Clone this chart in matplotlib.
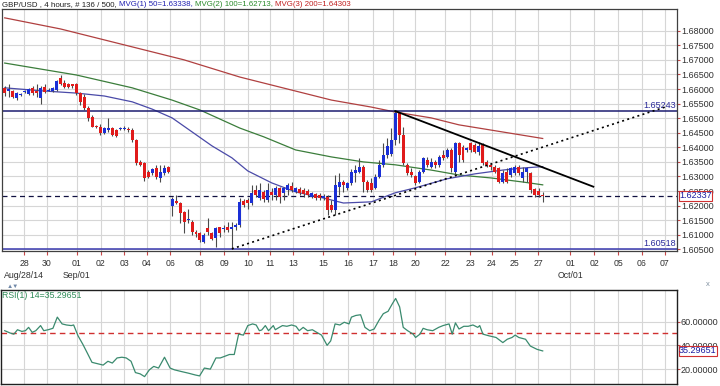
import matplotlib
matplotlib.use('Agg')
import matplotlib.pyplot as plt
import matplotlib.transforms as mtransforms
import numpy as np

plt.rcParams['font.family'] = ['Liberation Sans', 'DejaVu Sans']

# GBP/USD 4h candles (136 bars)
opens = [1.6604, 1.6593, 1.6593, 1.6569, 1.6580, 1.6590, 1.6583, 1.6604, 1.6593, 1.6569,
         1.6607, 1.6593, 1.6593, 1.6597, 1.6638, 1.6621, 1.6617, 1.6617, 1.6617, 1.6586,
         1.6573, 1.6535, 1.6504, 1.6473, 1.6470, 1.6449, 1.6460, 1.6466, 1.6460, 1.6463,
         1.6463, 1.6463, 1.6460, 1.6425, 1.6350, 1.6346, 1.6316, 1.6312, 1.6329, 1.6295,
         1.6312, 1.6333, 1.6199, 1.6216, 1.6209, 1.6178, 1.6151, 1.6144, 1.6110, 1.6106,
         1.6076, 1.6124, 1.6106, 1.6089, 1.6127, 1.6120, 1.6127, 1.6120, 1.6127, 1.6134,
         1.6216, 1.6220, 1.6209, 1.6254, 1.6226, 1.6247, 1.6220, 1.6247, 1.6237, 1.6261,
         1.6244, 1.6254, 1.6268, 1.6247, 1.6257, 1.6254, 1.6250, 1.6230, 1.6240, 1.6237,
         1.6226, 1.6230, 1.6202, 1.6185, 1.6264, 1.6281, 1.6261, 1.6278, 1.6312, 1.6316,
         1.6333, 1.6281, 1.6278, 1.6261, 1.6298, 1.6340, 1.6374, 1.6377, 1.6425, 1.6518,
         1.6442, 1.6340, 1.6316, 1.6302, 1.6281, 1.6316, 1.6357, 1.6333, 1.6350, 1.6340,
         1.6374, 1.6367, 1.6391, 1.6316, 1.6415, 1.6401, 1.6391, 1.6415, 1.6408, 1.6384,
         1.6408, 1.6350, 1.6340, 1.6333, 1.6329, 1.6281, 1.6316, 1.6305, 1.6312, 1.6333,
         1.6295, 1.6316, 1.6312, 1.6257, 1.6250, 1.6237]
highs = [1.6610, 1.6617, 1.6597, 1.6590, 1.6586, 1.6597, 1.6604, 1.6610, 1.6617, 1.6610,
         1.6617, 1.6604, 1.6607, 1.6631, 1.6648, 1.6631, 1.6621, 1.6617, 1.6621, 1.6590,
         1.6583, 1.6542, 1.6511, 1.6477, 1.6480, 1.6470, 1.6501, 1.6470, 1.6463, 1.6470,
         1.6473, 1.6470, 1.6466, 1.6429, 1.6357, 1.6350, 1.6322, 1.6329, 1.6340, 1.6340,
         1.6340, 1.6336, 1.6230, 1.6237, 1.6213, 1.6182, 1.6189, 1.6151, 1.6117, 1.6110,
         1.6106, 1.6158, 1.6110, 1.6127, 1.6127, 1.6134, 1.6144, 1.6144, 1.6141, 1.6226,
         1.6223, 1.6226, 1.6271, 1.6271, 1.6278, 1.6254, 1.6278, 1.6261, 1.6268, 1.6264,
         1.6264, 1.6278, 1.6281, 1.6264, 1.6264, 1.6261, 1.6257, 1.6247, 1.6244, 1.6244,
         1.6240, 1.6237, 1.6220, 1.6305, 1.6312, 1.6288, 1.6281, 1.6326, 1.6340, 1.6364,
         1.6340, 1.6288, 1.6295, 1.6309, 1.6357, 1.6415, 1.6432, 1.6466, 1.65243, 1.6522,
         1.6470, 1.6346, 1.6329, 1.6305, 1.6322, 1.6367, 1.6367, 1.6364, 1.6357, 1.6374,
         1.6391, 1.6398, 1.6398, 1.6418, 1.6418, 1.6408, 1.6401, 1.6418, 1.6415, 1.6418,
         1.6415, 1.6357, 1.6346, 1.6340, 1.6333, 1.6322, 1.6329, 1.6333, 1.6340, 1.6340,
         1.6333, 1.6333, 1.6316, 1.6261, 1.6261, 1.6247]
lows = [1.6576, 1.6573, 1.6569, 1.6562, 1.6576, 1.6586, 1.6580, 1.6580, 1.6573, 1.6549,
        1.6586, 1.6593, 1.6590, 1.6593, 1.6614, 1.6604, 1.6604, 1.6604, 1.6580, 1.6545,
        1.6528, 1.6490, 1.6470, 1.6466, 1.6442, 1.6446, 1.6453, 1.6439, 1.6436, 1.6460,
        1.6460, 1.6453, 1.6418, 1.6340, 1.6336, 1.6285, 1.6295, 1.6305, 1.6292, 1.6281,
        1.6305, 1.6312, 1.6165, 1.6206, 1.6141, 1.6106, 1.6141, 1.6100, 1.6093, 1.6076,
        1.6072, 1.6100, 1.6082, 1.6058, 1.6093, 1.6110, 1.6110, 1.60518, 1.6117, 1.6127,
        1.6196, 1.6189, 1.6202, 1.6230, 1.6220, 1.6213, 1.6213, 1.6220, 1.6220, 1.6209,
        1.6220, 1.6237, 1.6247, 1.6244, 1.6237, 1.6230, 1.6230, 1.6226, 1.6220, 1.6220,
        1.6220, 1.6168, 1.6178, 1.6168, 1.6237, 1.6247, 1.6254, 1.6271, 1.6281, 1.6312,
        1.6247, 1.6247, 1.6247, 1.6257, 1.6295, 1.6333, 1.6364, 1.6370, 1.6408, 1.6415,
        1.6340, 1.6305, 1.6298, 1.6271, 1.6278, 1.6312, 1.6333, 1.6329, 1.6329, 1.6333,
        1.6357, 1.6364, 1.6316, 1.6305, 1.6350, 1.6350, 1.6384, 1.6384, 1.6381, 1.6374,
        1.6340, 1.6333, 1.6322, 1.6312, 1.6278, 1.6278, 1.6278, 1.6298, 1.6305, 1.6305,
        1.6281, 1.6281, 1.6244, 1.6230, 1.6230, 1.6213]
closes = [1.6586, 1.6600, 1.6573, 1.6586, 1.6583, 1.6593, 1.6600, 1.6586, 1.6586, 1.6604,
          1.6590, 1.6597, 1.6604, 1.6628, 1.6617, 1.6607, 1.6607, 1.6610, 1.6586, 1.6556,
          1.6535, 1.6501, 1.6470, 1.6470, 1.6449, 1.6466, 1.6466, 1.6442, 1.6439, 1.6466,
          1.6466, 1.6460, 1.6425, 1.6346, 1.6340, 1.6295, 1.6298, 1.6326, 1.6298, 1.6316,
          1.6329, 1.6316, 1.6223, 1.6209, 1.6175, 1.6144, 1.6154, 1.6110, 1.6103, 1.6082,
          1.6100, 1.6110, 1.6086, 1.6124, 1.6106, 1.6124, 1.6117, 1.6127, 1.6134, 1.6213,
          1.6202, 1.6209, 1.6244, 1.6237, 1.6254, 1.6223, 1.6254, 1.6237, 1.6261, 1.6230,
          1.6261, 1.6271, 1.6254, 1.6261, 1.6244, 1.6240, 1.6237, 1.6244, 1.6226, 1.6226,
          1.6233, 1.6185, 1.6185, 1.6271, 1.6281, 1.6271, 1.6278, 1.6316, 1.6322, 1.6333,
          1.6281, 1.6254, 1.6254, 1.6298, 1.6340, 1.6374, 1.6405, 1.6425, 1.6518, 1.6442,
          1.6346, 1.6312, 1.6305, 1.6278, 1.6316, 1.6364, 1.6340, 1.6350, 1.6340, 1.6367,
          1.6364, 1.6391, 1.6329, 1.6415, 1.6374, 1.6357, 1.6398, 1.6391, 1.6384, 1.6405,
          1.6346, 1.6340, 1.6333, 1.6316, 1.6281, 1.6312, 1.6281, 1.6329, 1.6333, 1.6312,
          1.6316, 1.6329, 1.6254, 1.6237, 1.6237, 1.62337]

# moving averages, read at a few bars
ma50_bar = [0, 10, 18, 25, 32, 37, 42, 47, 52, 57, 61, 67, 73, 80, 85, 92, 98, 103, 111, 118, 125, 130, 135]
ma50_val = [1.6604, 1.6593, 1.6586, 1.6576, 1.6556, 1.6531, 1.6501, 1.6453, 1.6405, 1.6364, 1.6319, 1.6278,
            1.6247, 1.6226, 1.6209, 1.6213, 1.6244, 1.6261, 1.6292, 1.6309, 1.6322, 1.6329, 1.63338]
ma100_bar = [0, 18, 32, 42, 49, 59, 65, 73, 82, 90, 98, 107, 114, 122, 130, 135]
ma100_val = [1.6689, 1.6648, 1.6604, 1.6562, 1.6528, 1.6466, 1.6436, 1.6391, 1.6367, 1.6350, 1.6340,
             1.6322, 1.6305, 1.6295, 1.6281, 1.62713]
ma200_bar = [0, 14, 45, 59, 82, 92, 98, 107, 114, 135]
ma200_val = [1.6844, 1.6806, 1.6700, 1.6641, 1.6562, 1.6538, 1.6521, 1.6501, 1.6477, 1.64303]

# trend lines
support_bar = [57, 165.7]
support_val = [1.60518, 1.6538]
down_bar = [98, 147.7]
down_val = [1.65243, 1.6265]
resist_level = 1.65243
low_level = 1.60518
last_price = 1.62337

# RSI(14)
rsi_bar = [0.0, 1.4, 2.3, 3.2, 4.3, 5.2, 6.0, 6.9, 7.8, 9.0,
           9.8, 10.9, 12.1, 13.2, 14.4, 15.5, 16.7, 17.3, 18.4, 19.6,
           20.7, 21.9, 23.6, 24.7, 25.9, 27.0, 28.2, 29.4, 30.5, 31.7,
           32.8, 34.0, 35.1, 36.3, 37.4, 38.6, 40.1, 41.5, 42.6, 44.3,
           46.1, 47.8, 48.9, 50.1, 51.6, 53.0, 54.1, 55.3, 56.4, 57.6,
           58.7, 59.9, 61.0, 62.2, 63.1, 63.9, 64.5, 65.4, 66.2, 67.4,
           67.9, 68.9, 69.7, 70.8, 72.0, 73.1, 73.9, 74.9, 76.0, 77.2,
           78.3, 79.5, 80.9, 81.8, 82.9, 84.1, 85.2, 86.4, 87.0, 88.1,
           89.3, 90.4, 91.6, 92.7, 93.9, 95.0, 96.2, 97.3, 98.1, 99.1,
           100.0, 101.1, 102.5, 103.1, 104.2, 105.0, 106.0, 107.4, 108.9, 110.0,
           111.5, 112.3, 113.1, 114.0, 115.2, 116.3, 117.5, 118.7, 119.2, 120.0,
           121.5, 123.3, 125.0, 126.1, 127.3, 128.1, 129.0, 130.7, 131.9, 133.6,
           135.0]
rsi_val = [52.3, 50.3, 49.4, 53.1, 51.7, 52.3, 55.1, 50.9, 52.3, 56.6,
           52.3, 53.1, 54.3, 63.7, 58.0, 57.1, 56.6, 57.1, 48.0, 40.9,
           33.7, 25.7, 24.3, 23.4, 26.6, 25.1, 29.4, 30.0, 29.4, 26.6,
           17.1, 16.0, 13.7, 19.4, 22.3, 20.9, 30.0, 20.9, 19.4, 18.0,
           16.6, 15.1, 14.3, 20.9, 20.0, 29.4, 29.4, 30.9, 32.3, 32.3,
           49.4, 48.6, 56.6, 58.0, 57.1, 52.3, 52.9, 56.6, 52.3, 56.6,
           53.1, 55.1, 56.6, 56.0, 57.1, 56.0, 52.3, 55.1, 52.3, 53.1,
           50.9, 48.6, 40.0, 43.7, 58.0, 57.1, 59.4, 58.0, 63.7, 65.1,
           65.7, 55.1, 52.3, 53.7, 60.9, 66.6, 68.6, 75.1, 79.4, 72.3,
           55.1, 52.3, 49.4, 46.6, 49.4, 54.3, 53.1, 52.3, 55.1, 56.6,
           58.0, 49.4, 58.9, 53.7, 56.0, 56.0, 57.1, 55.1, 56.6, 49.4,
           48.0, 46.6, 42.3, 45.1, 46.6, 48.6, 46.6, 45.1, 39.4, 36.6,
           35.29651]

# x axis day labels
tick_bar = [4.9, 10.5, 18.1, 24.1, 30.0, 35.6, 41.5, 49.0, 55.1, 61.1, 66.6, 72.4, 79.9, 86.2,
            92.5, 97.5, 103.0, 110.5, 116.8, 122.2, 128.0, 133.9, 141.9, 147.9, 153.9, 159.9, 165.6]
tick_day = ['28', '30', '01', '02', '03', '04', '06', '08', '09', '10', '11', '13', '15', '16',
            '17', '18', '20', '22', '23', '24', '25', '27', '01', '02', '05', '06', '07']
month_pos = [0, 2, 22]
month_txt = ['Aug/28/14', 'Sep/01', 'Oct/01']
price_ticks = [1.605, 1.61, 1.615, 1.62, 1.625, 1.63, 1.635, 1.64, 1.645, 1.65,
               1.655, 1.66, 1.665, 1.67, 1.675, 1.68]
rsi_ticks = [20, 40, 60]

W, H = 720, 386
fig = plt.figure(figsize=(7.2, 3.86), dpi=100)
ax = fig.add_axes([2 / W, 1 - 251 / H, 675 / W, 242 / H])
ax2 = fig.add_axes([1 / W, 1 - 384 / H, 676 / W, 94 / H])

grid_c = '#d6d6d6'
tick_c = '#c84848'
fs = 6.3
yfs = 6.5

# ---- main price panel
o = np.array(opens); h = np.array(highs); l = np.array(lows); c = np.array(closes)
x = np.arange(len(o))
up = c >= o
ax.vlines(x, l, h, color='#4a4a4a', lw=0.8, zorder=3)
body_lo = np.minimum(o, c)
body_h = np.maximum(np.abs(c - o), 0.0003)
ax.bar(x, body_h, bottom=body_lo, width=0.75, color=np.where(up, '#1a2fd6', '#e01b1b'),
       lw=0, zorder=4)

ax.plot(ma200_bar, ma200_val, color='#b04040', lw=0.9, zorder=2)
ax.plot(ma100_bar, ma100_val, color='#3b7d3b', lw=0.9, zorder=2)
ax.plot(ma50_bar, ma50_val, color='#4a4aa8', lw=0.9, zorder=2)

ax.axhline(resist_level, color='#1c1c70', lw=1.1, zorder=2)
ax.axhline(low_level, color='#3a3ab0', lw=1.1, zorder=2)
ax.axhline(last_price, color='#101040', lw=0.9, dashes=(4, 3), zorder=2)
ax.plot(support_bar, support_val, color='black', lw=1.2, dashes=(1.2, 2.0), zorder=5)
ax.plot(down_bar, down_val, color='black', lw=1.3, zorder=5)

blend = mtransforms.blended_transform_factory(ax.transAxes, ax.transData)
ax.text(0.998, resist_level + 0.0004, '1.65243', transform=blend, ha='right', va='bottom',
        color='#2a2a9a', fontsize=yfs)
ax.text(0.998, low_level + 0.0004, '1.60518', transform=blend, ha='right', va='bottom',
        color='#2a2a9a', fontsize=yfs)

ax.set_xlim(-0.68, 168.7)
ax.set_ylim(1.60444, 1.68744)
ax.set_xticks(tick_bar)
ax.set_xticklabels(tick_day)
ax.set_yticks(price_ticks)
ax.set_yticklabels(['%.5f' % v for v in price_ticks])
ax.yaxis.tick_right()
ax.tick_params(axis='y', length=2.5, color=tick_c, labelsize=yfs, pad=0.3, labelcolor='#303030')
ax.tick_params(axis='x', length=3, color=tick_c, labelsize=fs, pad=3, labelcolor='#303030')
ax.grid(True, color=grid_c, lw=0.8)
ax.set_axisbelow(True)
for s in ax.spines.values():
    s.set_color('#404040')
    s.set_linewidth(0.9)

ax.text(1.003, last_price, '1.62337', transform=blend, ha='left', va='center',
        color='#1a1aa0', fontsize=yfs, zorder=10,
        bbox=dict(boxstyle='square,pad=0.05', fc='white', ec='#d03030', lw=0.8))

for i, t in zip(month_pos, month_txt):
    ax.annotate(t, xy=(tick_bar[i], 0), xycoords=('data', 'axes fraction'),
                xytext=(0, -25), textcoords='offset pixels', ha='center', va='center',
                fontsize=fs, color='#303030', annotation_clip=False)

# ---- title with coloured parts
tfs = 5.7
parts = [('GBP/USD , 4 hours, # 136 / 500, ', '#202020'),
         ('MVG(1) 50=1.63338, ', '#2020b0'),
         ('MVG(2) 100=1.62713, ', '#2a8a2a'),
         ('MVG(3) 200=1.64303', '#c02020')]
prev = ax.annotate(parts[0][0], xy=(2, H - 4.5), xycoords='figure pixels', va='center',
                   ha='left', fontsize=tfs, color=parts[0][1], annotation_clip=False)
for txt, col in parts[1:]:
    prev = ax.annotate(txt, xy=(1, 0), xycoords=prev, va='bottom', ha='left',
                       fontsize=tfs, color=col, annotation_clip=False)

# separator icons
fig.text(7 / W, 1 - 286 / H, '\u25b2\u25bc', fontsize=4.5, color='#7088a8', va='center')
fig.text(706 / W, 1 - 284 / H, 'x', fontsize=5.5, color='#8090a0', va='center')

# ---- RSI panel
ax2.plot(rsi_bar, rsi_val, color='#3a8a6e', lw=0.9, zorder=3)
ax2.axhline(50, color='#d03030', lw=1.0, dashes=(4, 3), zorder=2)
ax2.set_xlim(-0.68 - 0.25, 168.7)
ax2.set_ylim(7.5, 86.5)
ax2.set_xticks(tick_bar)
ax2.set_xticklabels([])
ax2.set_yticks(rsi_ticks)
ax2.set_yticklabels(['%.5f' % v for v in rsi_ticks])
ax2.yaxis.tick_right()
ax2.tick_params(axis='y', length=2.5, color=tick_c, labelsize=yfs, pad=0.3, labelcolor='#303030')
ax2.tick_params(axis='x', length=0)
ax2.grid(True, color=grid_c, lw=0.8)
ax2.set_axisbelow(True)
for s in ax2.spines.values():
    s.set_color('#202020')
    s.set_linewidth(1.0)
ax2.text(0.002, 0.985, 'RSI(1) 14=35.29651', transform=ax2.transAxes, va='top', ha='left',
         color='#2e8b57', fontsize=fs)
blend2 = mtransforms.blended_transform_factory(ax2.transAxes, ax2.transData)
ax2.text(1.003, rsi_val[-1], '35.29651', transform=blend2, ha='left', va='center',
         color='#1a1aa0', fontsize=yfs, zorder=10,
         bbox=dict(boxstyle='square,pad=0.05', fc='white', ec='#d03030', lw=0.8))

fig.savefig('out.png', dpi=100)
